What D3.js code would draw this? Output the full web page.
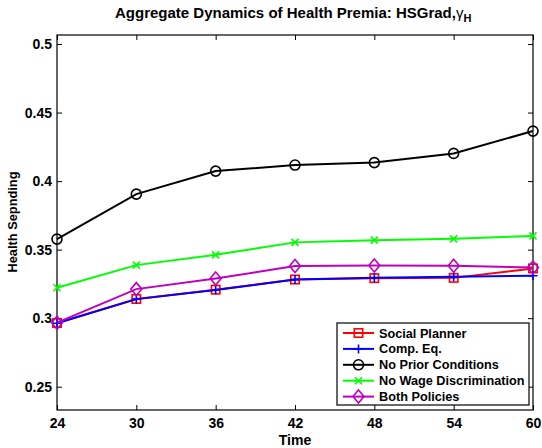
<!DOCTYPE html>
<html>
<head>
<meta charset="utf-8">
<script src="https://cdn.jsdelivr.net/npm/d3@7"></script>
<style>
  html, body { margin: 0; padding: 0; background: #fff; }
  svg { display: block; }
  text { font-family: "Liberation Sans", Arial, Helvetica, sans-serif; font-weight: bold; fill: #000; }
</style>
</head>
<body>
<svg id="chart" width="542" height="448"></svg>
<script>
// Ages at which aggregate health spending is reported
const times = [24, 30, 36, 42, 48, 54, 60];

// Health spending per policy scenario
const socialPlanner   = [0.2965, 0.3140, 0.3208, 0.3282, 0.3292, 0.3294, 0.3363];
const compEq          = [0.2963, 0.3139, 0.3206, 0.3282, 0.3295, 0.3303, 0.3310];
const noPriorCond     = [0.3577, 0.3905, 0.4073, 0.4117, 0.4135, 0.4202, 0.4365];
const noWageDiscrim   = [0.3222, 0.3387, 0.3462, 0.3553, 0.3569, 0.3579, 0.3600];
const bothPolicies    = [0.2967, 0.3212, 0.3290, 0.3380, 0.3385, 0.3383, 0.3370];

const seriesNames  = ["Social Planner", "Comp. Eq.", "No Prior Conditions", "No Wage Discrimination", "Both Policies"];
const seriesValues = [socialPlanner, compEq, noPriorCond, noWageDiscrim, bothPolicies];
const seriesColors = ["#ff0000", "#0000ff", "#000000", "#00ff00", "#bf00bf"];
const seriesMarkers = ["square", "plus", "circle", "cross", "diamond"];

const xTicks = [24, 30, 36, 42, 48, 54, 60];
const yTicks = [0.25, 0.3, 0.35, 0.4, 0.45, 0.5];

const svg = d3.select("#chart");
const plot = { left: 57, right: 533, top: 35, bottom: 410 };

const x = d3.scaleLinear().domain([24, 60]).range([plot.left, plot.right]);
const y = d3.scaleLinear().domain([0.233, 0.5066]).range([plot.bottom, plot.top]);

// Axes: inward ticks on all four sides, MATLAB box style
const tickLen = 5;
const fmtY = d => d3.format("")(+d.toFixed(2));

const gBottom = svg.append("g").attr("transform", `translate(0,${plot.bottom})`)
  .call(d3.axisBottom(x).tickValues(xTicks).tickSize(-tickLen).tickPadding(8).tickFormat(d3.format("d")));
const gTop = svg.append("g").attr("transform", `translate(0,${plot.top})`)
  .call(d3.axisTop(x).tickValues(xTicks).tickSize(-tickLen).tickFormat(""));
const gLeft = svg.append("g").attr("transform", `translate(${plot.left},0)`)
  .call(d3.axisLeft(y).tickValues(yTicks).tickSize(-tickLen).tickPadding(5).tickFormat(fmtY));
const gRight = svg.append("g").attr("transform", `translate(${plot.right},0)`)
  .call(d3.axisRight(y).tickValues(yTicks).tickSize(-tickLen).tickFormat(""));

[gBottom, gTop, gLeft, gRight].forEach(g => {
  g.select(".domain").remove();
  g.selectAll(".tick line").attr("stroke", "#000").attr("stroke-width", 1);
  g.selectAll(".tick text").style("font-size", "14px").style("font-weight", "bold")
    .attr("font-family", null).attr("fill", "#000");
});

// Box around the plotting area
svg.append("rect")
  .attr("x", plot.left).attr("y", plot.top)
  .attr("width", plot.right - plot.left).attr("height", plot.bottom - plot.top)
  .attr("fill", "none").attr("stroke", "#000").attr("stroke-width", 1.2);

// Marker drawing
function drawMarker(g, type, cx, cy, color) {
  const sw = 1.6;
  if (type === "square") {
    g.append("rect").attr("x", cx - 4.2).attr("y", cy - 4.2).attr("width", 8.4).attr("height", 8.4)
      .attr("fill", "none").attr("stroke", color).attr("stroke-width", sw);
  } else if (type === "circle") {
    g.append("circle").attr("cx", cx).attr("cy", cy).attr("r", 5)
      .attr("fill", "none").attr("stroke", color).attr("stroke-width", sw);
  } else if (type === "diamond") {
    g.append("path").attr("d", `M${cx},${cy - 6.5}L${cx + 5.5},${cy}L${cx},${cy + 6.5}L${cx - 5.5},${cy}Z`)
      .attr("fill", "none").attr("stroke", color).attr("stroke-width", sw);
  } else if (type === "plus") {
    g.append("path").attr("d", `M${cx - 4.5},${cy}H${cx + 4.5}M${cx},${cy - 4.5}V${cy + 4.5}`)
      .attr("fill", "none").attr("stroke", color).attr("stroke-width", sw);
  } else if (type === "cross") {
    g.append("path").attr("d", `M${cx - 3.5},${cy - 3.5}L${cx + 3.5},${cy + 3.5}M${cx - 3.5},${cy + 3.5}L${cx + 3.5},${cy - 3.5}`)
      .attr("fill", "none").attr("stroke", color).attr("stroke-width", sw);
  }
}

const line = d3.line().x(d => x(d[0])).y(d => y(d[1]));

seriesValues.forEach((vals, i) => {
  const pts = times.map((t, j) => [t, vals[j]]);
  const g = svg.append("g");
  g.append("path").attr("d", line(pts))
    .attr("fill", "none").attr("stroke", seriesColors[i]).attr("stroke-width", 2);
  pts.forEach(p => drawMarker(g, seriesMarkers[i], x(p[0]), y(p[1]), seriesColors[i]));
});

// Legend
const legend = { x: 337, y: 323, w: 192, h: 82, row0: 333, step: 15.9 };
svg.append("rect").attr("x", legend.x).attr("y", legend.y).attr("width", legend.w).attr("height", legend.h)
  .attr("fill", "#fff").attr("stroke", "#000").attr("stroke-width", 1.2);
seriesNames.forEach((name, i) => {
  const cy = legend.row0 + i * legend.step;
  const g = svg.append("g");
  g.append("line").attr("x1", 343).attr("x2", 374).attr("y1", cy).attr("y2", cy)
    .attr("stroke", seriesColors[i]).attr("stroke-width", 2);
  drawMarker(g, seriesMarkers[i], 358.5, cy, seriesColors[i]);
  g.append("text").attr("x", 379).attr("y", cy).attr("dy", "0.36em")
    .style("font-size", "12.7px").text(name);
});

// Title with Greek gamma and subscript H
const title = svg.append("text").attr("x", 115).attr("y", 18).style("font-size", "15px");
title.append("tspan").text("Aggregate Dynamics of Health Premia: HSGrad,");
title.append("tspan").style("font-weight", "normal").text("γ");
title.append("tspan").attr("dy", 4).style("font-size", "11px").text("H");

// Axis labels
svg.append("text").attr("x", 295).attr("y", 445).attr("text-anchor", "middle")
  .style("font-size", "14px").text("Time");
svg.append("text").attr("transform", "translate(17,222) rotate(-90)").attr("text-anchor", "middle")
  .style("font-size", "12.8px").text("Health Sepnding");
</script>
</body>
</html>
